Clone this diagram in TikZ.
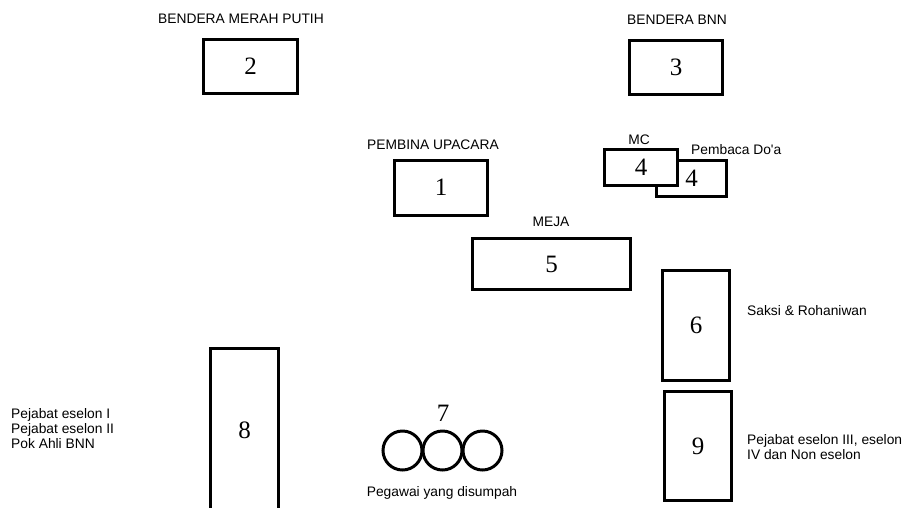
\documentclass[tikz,border=0pt]{standalone}
\usepackage{fontspec}
\setmainfont{Liberation Serif}
\newfontfamily\labfamily{Liberation Sans}
\begin{document}
\begin{tikzpicture}[x=1pt,y=-1pt,
  box/.style={draw, line width=3pt, fill=white, inner sep=0pt, font=\fontsize{25}{27}\selectfont},
  lab/.style={inner sep=0pt, font=\labfamily\fontsize{13.8}{15}\selectfont},
  num/.style={inner sep=0pt, font=\fontsize{25}{27}\selectfont},
  seat/.style={draw, line width=3pt, circle, minimum size=39pt, inner sep=0pt}]
\useasboundingbox (0,0) rectangle (904,507);
\begin{scope}
\clip (0,0) rectangle (904,507);
% boxes
\node[box, minimum width=94pt, minimum height=54pt] (b2) at (250.5,66.5) {\raisebox{1pt}{2}};
\node[box, minimum width=93pt, minimum height=54pt] (b3) at (676,67.5) {3};
\node[box, minimum width=93pt, minimum height=55pt] (b1) at (441,188) {\raisebox{2pt}{1}};
\node[box, minimum width=158pt, minimum height=51pt] (b5) at (551.5,264) {5};
\node[box, minimum width=70pt, minimum height=36pt] (b4b) at (691.5,178.5) {\raisebox{-4pt}{4}};
\node[box, minimum width=73pt, minimum height=36pt] (b4a) at (641,167.5) {\raisebox{-2pt}{4}};
\node[box, minimum width=67pt, minimum height=110pt] (b6) at (696,325.5) {6};
\node[box, minimum width=67pt, minimum height=109pt] (b9) at (698,446) {9};
\draw[line width=3pt] (210.5,520) -- (210.5,348.5) -- (278.5,348.5) -- (278.5,520);
\node[num] (n8) at (244.5,430) {8};
% circles
\node[seat] (c1) at (402.5,450.5) {};
\node[seat] (c2) at (442.5,450.5) {};
\node[seat] (c3) at (482.5,450.5) {};
\node[num] (n7) at (443,413) {7};
\end{scope}
% labels
\node[lab] (l2) at (241,19) {BENDERA MERAH PUTIH};
\node[lab] (l3) at (677,20) {BENDERA BNN};
\node[lab] (l1) at (433,145) {PEMBINA UPACARA};
\node[lab] (lmc) at (639,140) {MC};
\node[lab, anchor=west] (ldoa) at (691,150) {Pembaca Do'a};
\node[lab] (l5) at (551,222) {MEJA};
\node[lab, anchor=west] (l6) at (747,311) {Saksi \& Rohaniwan};
\node[lab, anchor=west, align=left] (l9) at (747,447) {Pejabat eselon III, eselon\\IV dan Non eselon};
\node[lab, anchor=west, align=left] (l8) at (11,429) {Pejabat eselon I\\Pejabat eselon II\\Pok Ahli BNN};
\node[lab] (l7) at (442,493) {Pegawai yang disumpah};
\end{tikzpicture}
\end{document}
